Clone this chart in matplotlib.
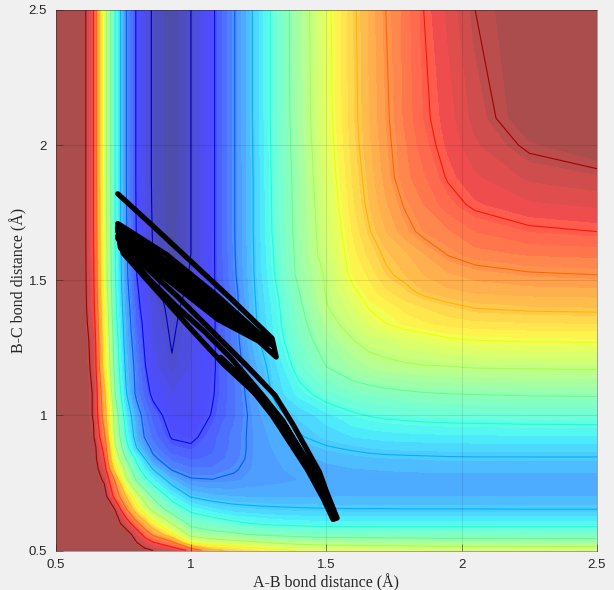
import numpy as np
import matplotlib
matplotlib.use("Agg")
import matplotlib.pyplot as plt
from matplotlib.colors import ListedColormap

# distancias de la malla (A)
ab_dist = [0.5, 0.60, 0.64, 0.68, 0.72, 0.76, 0.80, 0.83, 0.86, 0.93, 1.0, 1.08, 1.16,
           1.24, 1.32, 1.40, 1.50, 1.60, 1.66, 1.72, 1.79, 1.86, 1.95, 2.05, 2.25, 2.5]
bc_dist = [0.5, 0.53, 0.56, 0.60, 0.65, 0.70, 0.76, 0.80, 0.84, 0.88, 0.92, 1.0, 1.08, 1.18,
           1.28, 1.34, 1.40, 1.46, 1.52, 1.60, 1.68, 1.78, 1.88, 2.0, 2.1, 2.5]

# energia estimada, en numero de curva de nivel, una lista por cada bc_dist
e_050 = [12.4, 12.4, 12.4, 12.4, 12.4, 12.4, 12.4, 12.2, 12.0, 11.6, 10.8, 9.2, 8.8, 8.45, 8.15, 7.98, 7.85, 7.75, 7.72, 7.7, 7.67, 7.65, 7.63, 7.62, 7.6, 7.58]
e_053 = [12.4, 12.4, 12.4, 12.4, 12.4, 12.4, 12.0, 11.5, 11.05, 10.2, 7.9, 7.5, 7.3, 7.1, 6.85, 6.7, 6.6, 6.55, 6.52, 6.5, 6.47, 6.45, 6.43, 6.42, 6.4, 6.37]
e_056 = [12.4, 12.4, 12.4, 12.4, 12.4, 12.4, 11.6, 10.65, 9.8, 8.2, 6.7, 6.3, 6.15, 5.9, 5.8, 5.7, 5.64, 5.62, 5.61, 5.6, 5.6, 5.6, 5.59, 5.58, 5.57, 5.57]
e_060 = [12.4, 12.4, 12.4, 12.4, 12.4, 11.6, 10.3, 9.3, 8.3, 7.0, 5.72, 5.45, 5.15, 4.97, 4.85, 4.8, 4.75, 4.75, 4.75, 4.75, 4.75, 4.75, 4.75, 4.75, 4.76, 4.76]
e_065 = [12.4, 12.4, 12.4, 12.4, 12.0, 10.2, 8.4, 7.55, 6.8, 5.6, 4.85, 4.5, 4.26, 4.18, 4.12, 4.08, 4.05, 4.04, 4.04, 4.04, 4.03, 4.03, 4.03, 4.03, 4.02, 4.02]
e_070 = [12.4, 12.4, 12.4, 12.4, 10.7, 9.0, 7.4, 6.55, 5.85, 4.7, 3.95, 3.72, 3.65, 3.6, 3.6, 3.62, 3.63, 3.64, 3.64, 3.65, 3.65, 3.65, 3.65, 3.65, 3.65, 3.65]
e_076 = [12.4, 12.4, 12.4, 11.9, 9.9, 7.2, 5.9, 5.25, 4.7, 3.7, 3.08, 3.03, 3.1, 3.25, 3.33, 3.4, 3.45, 3.47, 3.48, 3.48, 3.49, 3.5, 3.5, 3.5, 3.5, 3.5]
e_080 = [12.4, 12.4, 12.4, 11.5, 8.5, 6.75, 5.3, 4.6, 4.0, 2.95, 2.7, 2.7, 2.95, 3.2, 3.37, 3.47, 3.57, 3.63, 3.65, 3.67, 3.69, 3.7, 3.71, 3.72, 3.72, 3.72]
e_084 = [12.4, 12.4, 12.4, 11.0, 7.7, 6.0, 4.8, 4.0, 3.15, 2.55, 2.35, 2.45, 2.8, 3.2, 3.4, 3.55, 3.7, 3.8, 3.85, 3.88, 3.9, 3.92, 3.94, 3.95, 3.95, 3.95]
e_088 = [12.4, 12.4, 12.4, 10.7, 7.2, 5.35, 4.0, 3.35, 2.8, 2.2, 2.1, 2.35, 2.75, 3.2, 3.47, 3.72, 3.95, 4.08, 4.15, 4.2, 4.22, 4.23, 4.25, 4.26, 4.27, 4.27]
e_092 = [12.4, 12.4, 12.1, 10.2, 6.8, 5.0, 3.6, 2.95, 2.55, 1.95, 1.85, 2.3, 2.75, 3.2, 3.55, 3.95, 4.2, 4.4, 4.45, 4.5, 4.53, 4.55, 4.57, 4.58, 4.6, 4.6]
e_100 = [12.4, 12.4, 11.95, 9.5, 6.6, 4.6, 3.4, 2.7, 2.3, 1.7, 1.55, 2.05, 2.6, 3.25, 3.85, 4.2, 4.55, 4.9, 5.03, 5.1, 5.15, 5.2, 5.23, 5.25, 5.28, 5.3]
e_108 = [12.4, 12.4, 11.95, 9.25, 6.0, 4.1, 2.8, 2.3, 1.85, 1.4, 1.45, 1.95, 2.6, 3.4, 4.25, 4.75, 5.3, 5.6, 5.7, 5.8, 5.88, 5.95, 6.0, 6.03, 6.08, 6.1]
e_118 = [12.4, 12.4, 11.8, 8.5, 5.7, 3.85, 2.7, 2.05, 1.55, 1.05, 1.4, 1.9, 2.65, 3.6, 4.4, 5.3, 6.0, 6.45, 6.65, 6.8, 6.88, 6.95, 6.98, 7.05, 7.08, 7.1]
e_128 = [12.4, 12.4, 11.7, 8.3, 5.5, 3.65, 2.45, 1.9, 1.4, 0.95, 1.35, 1.9, 2.75, 3.85, 4.75, 5.6, 6.4, 7.0, 7.3, 7.4, 7.65, 7.75, 7.93, 8.02, 8.08, 8.1]
e_134 = [12.4, 12.4, 11.5, 8.15, 5.35, 3.55, 2.3, 1.85, 1.32, 0.9, 1.28, 1.9, 2.75, 3.95, 4.85, 5.72, 6.7, 7.35, 7.7, 8.0, 8.2, 8.35, 8.5, 8.57, 8.62, 8.65]
e_140 = [12.4, 12.4, 11.3, 8.0, 5.2, 3.45, 2.2, 1.72, 1.25, 0.85, 1.2, 1.9, 2.75, 4.0, 4.9, 5.85, 6.95, 7.6, 8.05, 8.2, 8.5, 8.65, 8.85, 9.03, 9.12, 9.15]
e_146 = [12.4, 12.4, 11.2, 7.85, 5.15, 3.3, 2.1, 1.65, 1.17, 0.75, 1.12, 1.9, 2.8, 4.05, 5.0, 6.0, 7.05, 7.9, 8.3, 8.6, 8.85, 9.15, 9.35, 9.45, 9.52, 9.55]
e_152 = [12.4, 12.4, 11.15, 7.7, 5.1, 3.2, 2.0, 1.55, 1.1, 0.65, 1.05, 1.9, 2.9, 4.1, 5.15, 6.2, 7.1, 8.2, 8.45, 8.9, 9.15, 9.4, 9.6, 9.75, 9.93, 10.0]
e_160 = [12.4, 12.4, 11.1, 7.65, 5.05, 3.15, 1.97, 1.5, 1.0, 0.55, 1.0, 1.9, 2.95, 4.12, 5.2, 6.25, 7.35, 8.3, 8.75, 9.1, 9.35, 9.65, 10.05, 10.3, 10.45, 10.5]
e_168 = [12.4, 12.4, 11.05, 7.6, 5.0, 3.1, 1.95, 1.45, 0.95, 0.5, 1.0, 1.9, 2.97, 4.15, 5.3, 6.3, 7.4, 8.45, 8.97, 9.4, 9.8, 10.15, 10.35, 10.65, 10.9, 11.0]
e_178 = [12.4, 12.4, 11.05, 7.55, 5.0, 3.07, 1.92, 1.42, 0.92, 0.47, 1.0, 1.9, 2.97, 4.15, 5.32, 6.32, 7.5, 8.6, 9.15, 9.6, 10.05, 10.4, 10.8, 11.1, 11.35, 11.45]
e_188 = [12.4, 12.4, 11.05, 7.5, 5.0, 3.05, 1.9, 1.4, 0.9, 0.45, 1.0, 1.9, 2.97, 4.15, 5.35, 6.35, 7.6, 8.7, 9.25, 9.75, 10.3, 10.6, 11.05, 11.35, 11.7, 11.85]
e_200 = [12.4, 12.4, 11.05, 7.5, 5.0, 3.05, 1.9, 1.4, 0.9, 0.45, 1.0, 1.9, 2.97, 4.18, 5.38, 6.4, 7.68, 8.8, 9.35, 9.85, 10.35, 10.8, 11.2, 11.6, 12.1, 12.4]
e_210 = [12.4, 12.4, 11.05, 7.5, 5.0, 3.05, 1.9, 1.4, 0.9, 0.45, 1.0, 1.9, 2.97, 4.2, 5.4, 6.45, 7.75, 8.85, 9.4, 9.9, 10.45, 10.9, 11.27, 11.75, 12.4, 12.4]
e_250 = [12.4, 12.4, 11.05, 7.5, 5.0, 3.05, 1.9, 1.4, 0.9, 0.45, 1.0, 1.9, 2.97, 4.2, 5.4, 6.5, 7.8, 8.9, 9.45, 10.0, 10.5, 11.0, 11.46, 12.0, 12.4, 12.4]

energia = np.array([e_050, e_053, e_056, e_060, e_065, e_070, e_076, e_080, e_084, e_088, e_092, e_100,
                    e_108, e_118, e_128, e_134, e_140, e_146, e_152, e_160, e_168, e_178, e_188,
                    e_200, e_210, e_250])

# trayectoria, pasada por pasada
tray_ab = [1.11, 1.19, 1.30, 1.43, 1.49, 1.525,
           1.54, 1.50, 1.475, 1.375, 1.31, 1.20, 1.08, 0.95, 0.82, 0.735,
           0.74, 0.85, 0.95, 1.05, 1.15, 1.26, 1.34, 1.42, 1.46, 1.53,
           1.52, 1.45, 1.35, 1.26, 1.12, 1.00, 0.75,
           0.73, 0.91, 1.10, 1.25, 1.30,
           1.30, 1.25, 1.10, 0.91, 0.73,
           0.73, 0.91, 1.10, 1.25, 1.30,
           1.30, 1.25, 1.10, 0.91, 0.73,
           0.73, 0.91, 1.10, 1.25, 1.315,
           1.30, 1.15, 1.00, 0.85, 0.73]
tray_bc = [1.215, 1.14, 1.00, 0.80, 0.69, 0.615,
           0.62, 0.72, 0.79, 0.97, 1.075, 1.19, 1.31, 1.44, 1.56, 1.65,
           1.62, 1.50, 1.40, 1.31, 1.21, 1.08, 0.98, 0.84, 0.76, 0.62,
           0.64, 0.80, 0.96, 1.06, 1.19, 1.32, 1.60,
           1.71, 1.595, 1.44, 1.305, 1.27,
           1.27, 1.295, 1.415, 1.57, 1.695,
           1.68, 1.545, 1.395, 1.29, 1.265,
           1.26, 1.285, 1.375, 1.525, 1.665,
           1.655, 1.505, 1.355, 1.275, 1.216,
           1.285, 1.43, 1.57, 1.71, 1.82]

ticks = [0.5, 1, 1.5, 2, 2.5]
tick_labels = ["0.5", "1", "1.5", "2", "2.5"]

# jet con transparencia 0.7 sobre blanco, ya mezclado (alpha deja costuras entre bandas)
jet_claro = ListedColormap(0.7 * plt.get_cmap("jet")(np.linspace(0, 1, 256))[:, :3] + 0.3)

fig = plt.figure(figsize=(6.14, 5.90), dpi=100, facecolor="#f0f0f0")
ax = fig.add_axes([55.5 / 614, 1 - 550.5 / 590, 541.5 / 614, 540.5 / 590])

# relleno y curvas de nivel
norma = plt.Normalize(0.4, 12.4)
ax.contourf(ab_dist, bc_dist, energia, levels=np.append(np.arange(0.4, 12.4, 0.25), 12.41),
            cmap=jet_claro, norm=norma)
ax.contour(ab_dist, bc_dist, energia, levels=np.arange(1, 13), cmap="jet", norm=norma, linewidths=0.8)

ax.plot(tray_ab, tray_bc, color="black", lw=3.8, solid_joinstyle="round", solid_capstyle="round")

ax.set_xlim(0.5, 2.5)
ax.set_ylim(0.5, 2.5)
ax.set_xticks(ticks)
ax.set_xticklabels(tick_labels, family="Liberation Sans", fontsize=9.5, color="#262626")
ax.set_yticks(ticks)
ax.set_yticklabels(tick_labels, family="Liberation Sans", fontsize=9.5, color="#262626")
ax.tick_params(direction="in", length=5, width=0.7, color=(0.15, 0.15, 0.15, 0.5), pad=6)
ax.set_axisbelow(False)
ax.grid(True, color="black", alpha=0.1, lw=0.8)
for lado in ax.spines.values():
    lado.set_color((0.15, 0.15, 0.15, 0.4))
    lado.set_linewidth(0.7)

ax.set_xlabel("A-B bond distance (Å)", family="Liberation Serif", fontsize=11.5, color="#262626", labelpad=2)
ax.set_ylabel("B-C bond distance (Å)", family="Liberation Serif", fontsize=11.5, color="#262626", labelpad=1)

fig.savefig("out.png", dpi=100, facecolor=fig.get_facecolor())
plt.close(fig)
